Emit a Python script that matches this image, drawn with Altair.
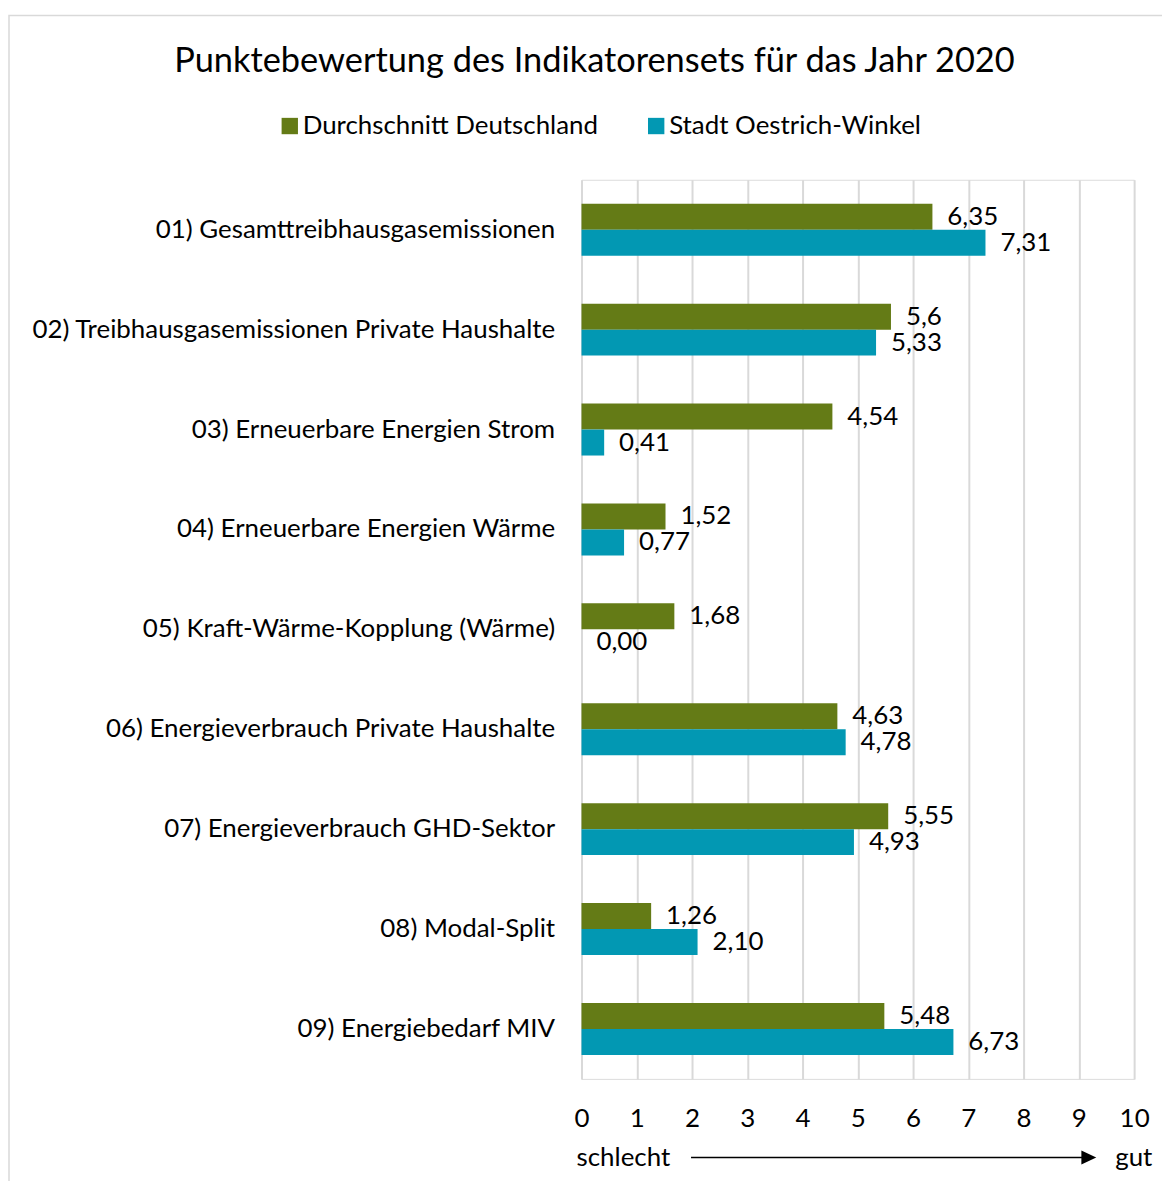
import altair as alt
import pandas as pd

title_text = "Punktebewertung des Indikatorensets für das Jahr 2020"
categories = [
    "01) Gesamttreibhausgasemissionen",
    "02) Treibhausgasemissionen Private Haushalte",
    "03) Erneuerbare Energien Strom",
    "04) Erneuerbare Energien Wärme",
    "05) Kraft-Wärme-Kopplung (Wärme)",
    "06) Energieverbrauch Private Haushalte",
    "07) Energieverbrauch GHD-Sektor",
    "08) Modal-Split",
    "09) Energiebedarf MIV",
]
series = ["Durchschnitt Deutschland", "Stadt Oestrich-Winkel"]
values_de = [6.35, 5.6, 4.54, 1.52, 1.68, 4.63, 5.55, 1.26, 5.48]
values_ow = [7.31, 5.33, 0.41, 0.77, 0.00, 4.78, 4.93, 2.10, 6.73]
labels_de = ["6,35", "5,6", "4,54", "1,52", "1,68", "4,63", "5,55", "1,26", "5,48"]
labels_ow = ["7,31", "5,33", "0,41", "0,77", "0,00", "4,78", "4,93", "2,10", "6,73"]
tick_values = [0, 1, 2, 3, 4, 5, 6, 7, 8, 9, 10]
colors = ["#647B16", "#0298B3"]
FONT = "Lato"
FS = 26

rows = []
for i, c in enumerate(categories):
    rows.append({"cat": c, "series": series[0], "value": values_de[i], "label": labels_de[i]})
    rows.append({"cat": c, "series": series[1], "value": values_ow[i], "label": labels_ow[i]})
df = pd.DataFrame(rows)
one = pd.DataFrame({"k": [0]})

base = alt.Chart(df).encode(
    y=alt.Y(
        "cat:N",
        sort=categories,
        scale=alt.Scale(paddingInner=0.48, paddingOuter=0.24),
        axis=alt.Axis(title=None, labelFontSize=FS, labelPadding=27, ticks=False,
                      domain=False, labelLimit=0, labelColor="#000000", grid=False),
    ),
    yOffset=alt.YOffset("series:N", sort=series, scale=alt.Scale(paddingInner=0, paddingOuter=0)),
    x=alt.X(
        "value:Q",
        scale=alt.Scale(domain=[0, 10], nice=False),
        axis=alt.Axis(title=None, values=tick_values, labelFontSize=FS, labelPadding=27,
                      labelFlush=False, ticks=False, domain=False, grid=True,
                      gridColor="#D9D9D9", gridWidth=2, labelColor="#000000"),
    ),
)

bars = base.mark_bar().encode(
    color=alt.Color(
        "series:N",
        sort=series,
        scale=alt.Scale(domain=series, range=colors),
        legend=alt.Legend(
            orient="none", legendX=-306, legendY=-67, direction="horizontal",
            title=None, symbolType="square", symbolSize=270, symbolStrokeWidth=0,
            labelFontSize=FS, labelLimit=0, columnPadding=45, labelOffset=0,
            labelColor="#000000",
        ),
    )
)

text = base.mark_text(align="left", baseline="middle", dx=15, fontSize=FS, color="#000000").encode(
    text="label:N"
)

frame = alt.Chart(one).mark_rect(fillOpacity=0, stroke="#D9D9D9", strokeWidth=1.5).encode(
    x=alt.value(-575), y=alt.value(-165), x2=alt.value(700), y2=alt.value(1100)
)

title = alt.Chart(one).mark_text(fontSize=34.5, align="center", baseline="middle", color="#000000").encode(
    x=alt.value(13), y=alt.value(-118), text=alt.value(title_text)
)

arrow = alt.Chart(one).mark_rule(color="#000000", strokeWidth=1.5).encode(
    x=alt.value(110), x2=alt.value(503), y=alt.value(982)
)
head = alt.Chart(one).mark_point(shape="M-1,-0.93L1,0L-1,0.93Z", filled=True, color="#000000",
                                 size=225, opacity=1, strokeWidth=0).encode(
    x=alt.value(509.5), y=alt.value(982)
)
bad = alt.Chart(one).mark_text(align="left", baseline="middle", fontSize=FS, color="#000000").encode(
    x=alt.value(-5), y=alt.value(982), text=alt.value("schlecht")
)
good = alt.Chart(one).mark_text(align="left", baseline="middle", fontSize=FS, color="#000000").encode(
    x=alt.value(536), y=alt.value(982), text=alt.value("gut")
)

chart = (
    alt.layer(frame, bars, text, title, arrow, head, bad, good)
    .properties(
        width=555,
        height=903,
        padding={"left": 576, "top": 170, "right": 28, "bottom": 100},
        autosize=alt.AutoSizeParams(type="none"),
    )
    .configure_view(stroke=None, strokeWidth=0)
    .configure_axis(domain=False, ticks=False, domainColor="#FF0000", tickColor="#FF0000", gridColor="#FF0000")
    .configure_axisY(grid=False, domain=False)
    .configure(font=FONT)
)

chart.save("out.html", embed_options={"renderer": "svg", "actions": False})
